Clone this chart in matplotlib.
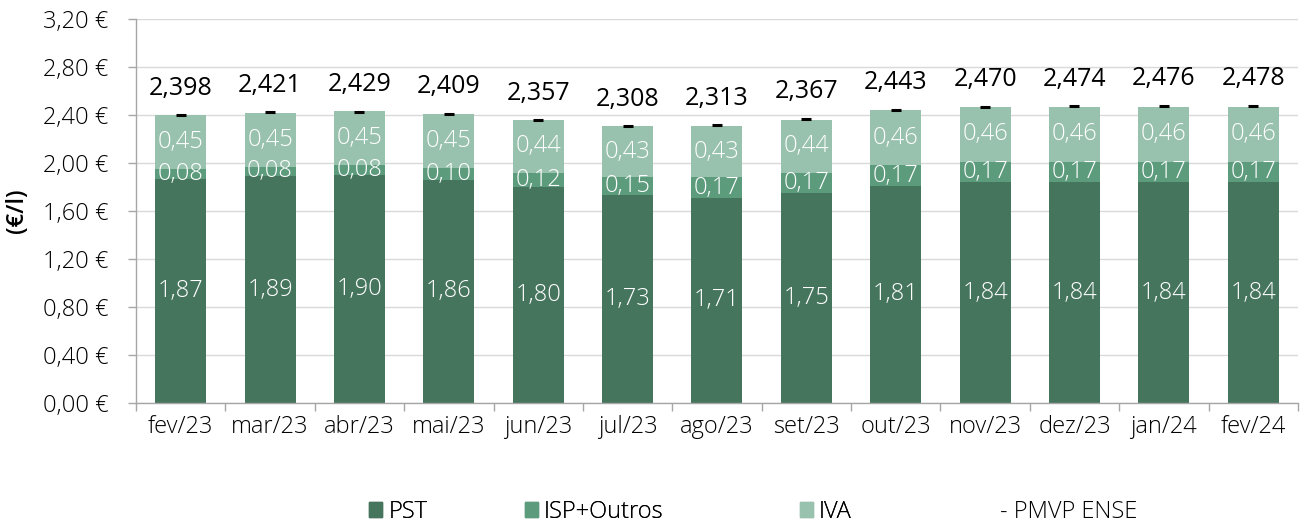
import matplotlib
matplotlib.use("Agg")
import matplotlib.pyplot as plt
import numpy as np
from matplotlib.ticker import FixedLocator, FuncFormatter
from matplotlib.patches import Patch

plt.rcParams['font.family'] = ['Open Sans', 'DejaVu Sans']

categories = ["fev/23", "mar/23", "abr/23", "mai/23", "jun/23", "jul/23", "ago/23",
              "set/23", "out/23", "nov/23", "dez/23", "jan/24", "fev/24"]
pst = [1.87, 1.89, 1.90, 1.86, 1.80, 1.73, 1.71, 1.75, 1.81, 1.84, 1.84, 1.84, 1.84]
isp = [0.08, 0.08, 0.08, 0.10, 0.12, 0.15, 0.17, 0.17, 0.17, 0.17, 0.17, 0.17, 0.17]
iva = [0.45, 0.45, 0.45, 0.45, 0.44, 0.43, 0.43, 0.44, 0.46, 0.46, 0.46, 0.46, 0.46]
pmvp = [2.398, 2.421, 2.429, 2.409, 2.357, 2.308, 2.313, 2.367, 2.443, 2.470, 2.474, 2.476, 2.478]
yticks = [0.0, 0.4, 0.8, 1.2, 1.6, 2.0, 2.4, 2.8, 3.2]

c_pst = "#46755E"
c_isp = "#5D9B7D"
c_iva = "#99C2AE"

fig = plt.figure(figsize=(13.05, 5.25), dpi=100)
ax = fig.add_axes([0.1042, 0.2324, 0.8904, 0.7314])

x = np.arange(len(categories))
w = 0.57
pst_a = np.array(pst); isp_a = np.array(isp); iva_a = np.array(iva)
b1 = ax.bar(x, pst_a, w, color=c_pst, label="PST", zorder=2)
b2 = ax.bar(x, isp_a, w, bottom=pst_a, color=c_isp, label="ISP+Outros", zorder=2)
b3 = ax.bar(x, iva_a, w, bottom=pst_a + isp_a, color=c_iva, label="IVA", zorder=2)
ln, = ax.plot(x, pmvp, linestyle="none", marker="_", markersize=7, markeredgewidth=2.2,
              color="black", label="- PMVP ENSE", zorder=3)

def fmt2(v):
    return f"{v:.2f}".replace(".", ",")

fs = 17
for i in range(len(x)):
    ax.text(x[i], pst[i] / 2, fmt2(pst[i]), ha="center", va="center", color="white",
            fontsize=fs, fontweight="light", zorder=4)
    ax.text(x[i], pst[i] + isp[i] / 2, fmt2(isp[i]), ha="center", va="center", color="white",
            fontsize=fs, fontweight="light", zorder=4)
    ax.text(x[i], pst[i] + isp[i] + iva[i] / 2, fmt2(iva[i]), ha="center", va="center", color="white",
            fontsize=fs, fontweight="light", zorder=4)
    ax.text(x[i], pmvp[i] + 0.225, f"{pmvp[i]:.3f}".replace(".", ","), ha="center", va="center",
            color="black", fontsize=18, fontweight="medium", zorder=4)

ax.set_xlim(-0.5, len(categories) - 0.5)
ax.set_ylim(0, 3.2)
ax.yaxis.set_major_locator(FixedLocator(yticks))
ax.yaxis.set_major_formatter(FuncFormatter(lambda v, p: f"{v:.2f} €".replace(".", ",")))
ax.set_xticks(x)
ax.set_xticklabels(categories)
ax.set_xticks(np.arange(-0.5, len(categories), 1.0), minor=True)
ax.tick_params(axis="x", which="major", length=0, labelsize=fs, pad=9)
ax.tick_params(axis="x", which="minor", length=6, color="#A6A6A6", width=1)
ax.tick_params(axis="y", length=6, color="#A6A6A6", width=1, labelsize=fs, pad=14)
for lab in ax.get_xticklabels() + ax.get_yticklabels():
    lab.set_fontweight("light")
ax.grid(axis="y", color="#D9D9D9", linewidth=1, zorder=0)
ax.set_axisbelow(True)
for s in ["top", "right"]:
    ax.spines[s].set_visible(False)
for s in ["left", "bottom"]:
    ax.spines[s].set_color("#A6A6A6")
    ax.spines[s].set_linewidth(1)
ax.set_ylabel("(€/l)", fontsize=fs, fontweight="semibold")
ax.yaxis.set_label_coords(-0.092, 0.5)

legend_items = [
    (Patch(color=c_pst), "PST", 0.283),
    (Patch(color=c_isp), "ISP+Outros", 0.402),
    (Patch(color=c_iva), "IVA", 0.613),
]
for h, lab, xp in legend_items:
    lg = fig.legend(handles=[h], labels=[lab], loc="center left", bbox_to_anchor=(xp, 0.025),
                    frameon=False, handlelength=0.55, handleheight=0.55,
                    handletextpad=0.25, borderpad=0, borderaxespad=0, prop={"weight": "light", "size": fs})
    fig.add_artist(lg)
fig.text(0.766, 0.025, "- PMVP ENSE", ha="left", va="center", fontsize=fs, fontweight="light")

fig.savefig("out.png", dpi=100)
